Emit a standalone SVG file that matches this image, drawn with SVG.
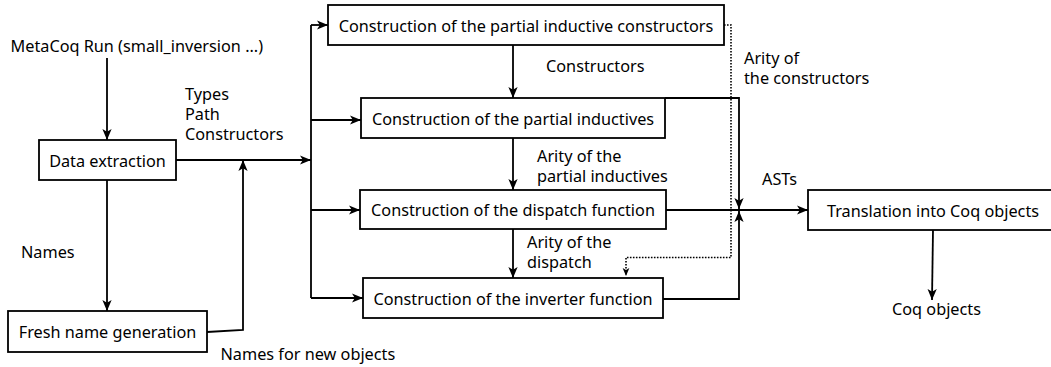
<svg xmlns="http://www.w3.org/2000/svg" width="1051" height="367" viewBox="0 0 1051 367">
<style>
text{font-family:"Noto Sans","Open Sans","DejaVu Sans",sans-serif;font-size:16.25px;fill:#000}
.c{text-anchor:middle}
.box{fill:#fff;stroke:#000;stroke-width:1.8}
.e{fill:none;stroke:#000;stroke-width:1.8}
.d{fill:none;stroke:#000;stroke-width:1.6;stroke-dasharray:1.6 1.4}
</style>
<defs>
<marker id="a" viewBox="0 0 10 10" refX="10" refY="5" markerWidth="11" markerHeight="11" markerUnits="userSpaceOnUse" orient="auto">
<path d="M0,0.8 L10,5 L0,9.2 L2.6,5 z" fill="#000"/>
</marker>
<marker id="s" viewBox="0 0 10 10" refX="10" refY="5" markerWidth="8" markerHeight="8" markerUnits="userSpaceOnUse" orient="auto">
<path d="M0,0.8 L10,5 L0,9.2 L2.6,5 z" fill="#000"/>
</marker>
</defs>
<g id="connectors">
<path class="e" d="M107,58 L107,140" marker-end="url(#a)"/>
<path class="e" d="M176,160 L311,160" marker-end="url(#a)"/>
<path class="e" d="M311,25 L311,298"/>
<path class="e" d="M311,25 L328,25" marker-end="url(#a)"/>
<path class="e" d="M311,120 L361,120" marker-end="url(#a)"/>
<path class="e" d="M311,210 L360,210" marker-end="url(#a)"/>
<path class="e" d="M311,298 L363,298" marker-end="url(#a)"/>
<path class="e" d="M107,180 L107,311" marker-end="url(#a)"/>
<path class="e" d="M207,332 L243,330 L243,160" marker-end="url(#a)"/>
<path class="e" d="M513,45 L513,98" marker-end="url(#a)"/>
<path class="e" d="M513,138 L513,190" marker-end="url(#a)"/>
<path class="e" d="M513,229 L513,278" marker-end="url(#a)"/>
<path class="e" d="M665,98 L739,98 L739,209" marker-end="url(#a)"/>
<path class="e" d="M666,210 L808,210" marker-end="url(#a)"/>
<path class="e" d="M663,299 L739,299 L739,211" marker-end="url(#a)"/>
<path class="d" d="M724,25 L731,25 L731,257.5 L626,257.5 L626,276" marker-end="url(#s)"/>
<path class="e" d="M933,230 L932,300" marker-end="url(#a)"/>
</g>
<g id="labels">
<text x="10.5" y="52">MetaCoq Run (small_inversion ...)</text>
<text x="185" y="100">Types</text>
<text x="185" y="120">Path</text>
<text x="185" y="140">Constructors</text>
<text x="21" y="258">Names</text>
<text x="220.5" y="359.5">Names for new objects</text>
<text x="546" y="72">Constructors</text>
<text x="744" y="64">Arity of</text>
<text x="744" y="84">the constructors</text>
<text x="537" y="161.5">Arity of the</text>
<text x="537" y="181.5">partial inductives</text>
<text x="527" y="248">Arity of the</text>
<text x="527" y="268">dispatch</text>
<text x="762" y="185">ASTs</text>
<text x="892" y="315">Coq objects</text>
</g>
<g id="data-extraction">
<rect class="box" x="39" y="140" width="137" height="40"/>
<text class="c" x="107.5" y="166.5">Data extraction</text>
</g>
<g id="fresh-name-generation">
<rect class="box" x="8" y="311" width="199" height="41"/>
<text class="c" x="107.5" y="338">Fresh name generation</text>
</g>
<g id="partial-inductive-constructors">
<rect class="box" x="328" y="5" width="396" height="40"/>
<text class="c" x="526" y="31.5">Construction of the partial inductive constructors</text>
</g>
<g id="partial-inductives">
<rect class="box" x="361" y="98" width="304" height="40"/>
<text class="c" x="513" y="124.5">Construction of the partial inductives</text>
</g>
<g id="dispatch-function">
<rect class="box" x="360" y="190" width="306" height="39"/>
<text class="c" x="513" y="216">Construction of the dispatch function</text>
</g>
<g id="inverter-function">
<rect class="box" x="363" y="278" width="300" height="40"/>
<text class="c" x="513" y="304.5">Construction of the inverter function</text>
</g>
<g id="translation">
<rect class="box" x="808" y="190" width="250" height="40"/>
<text class="c" x="933" y="216.5">Translation into Coq objects</text>
</g>
</svg>
